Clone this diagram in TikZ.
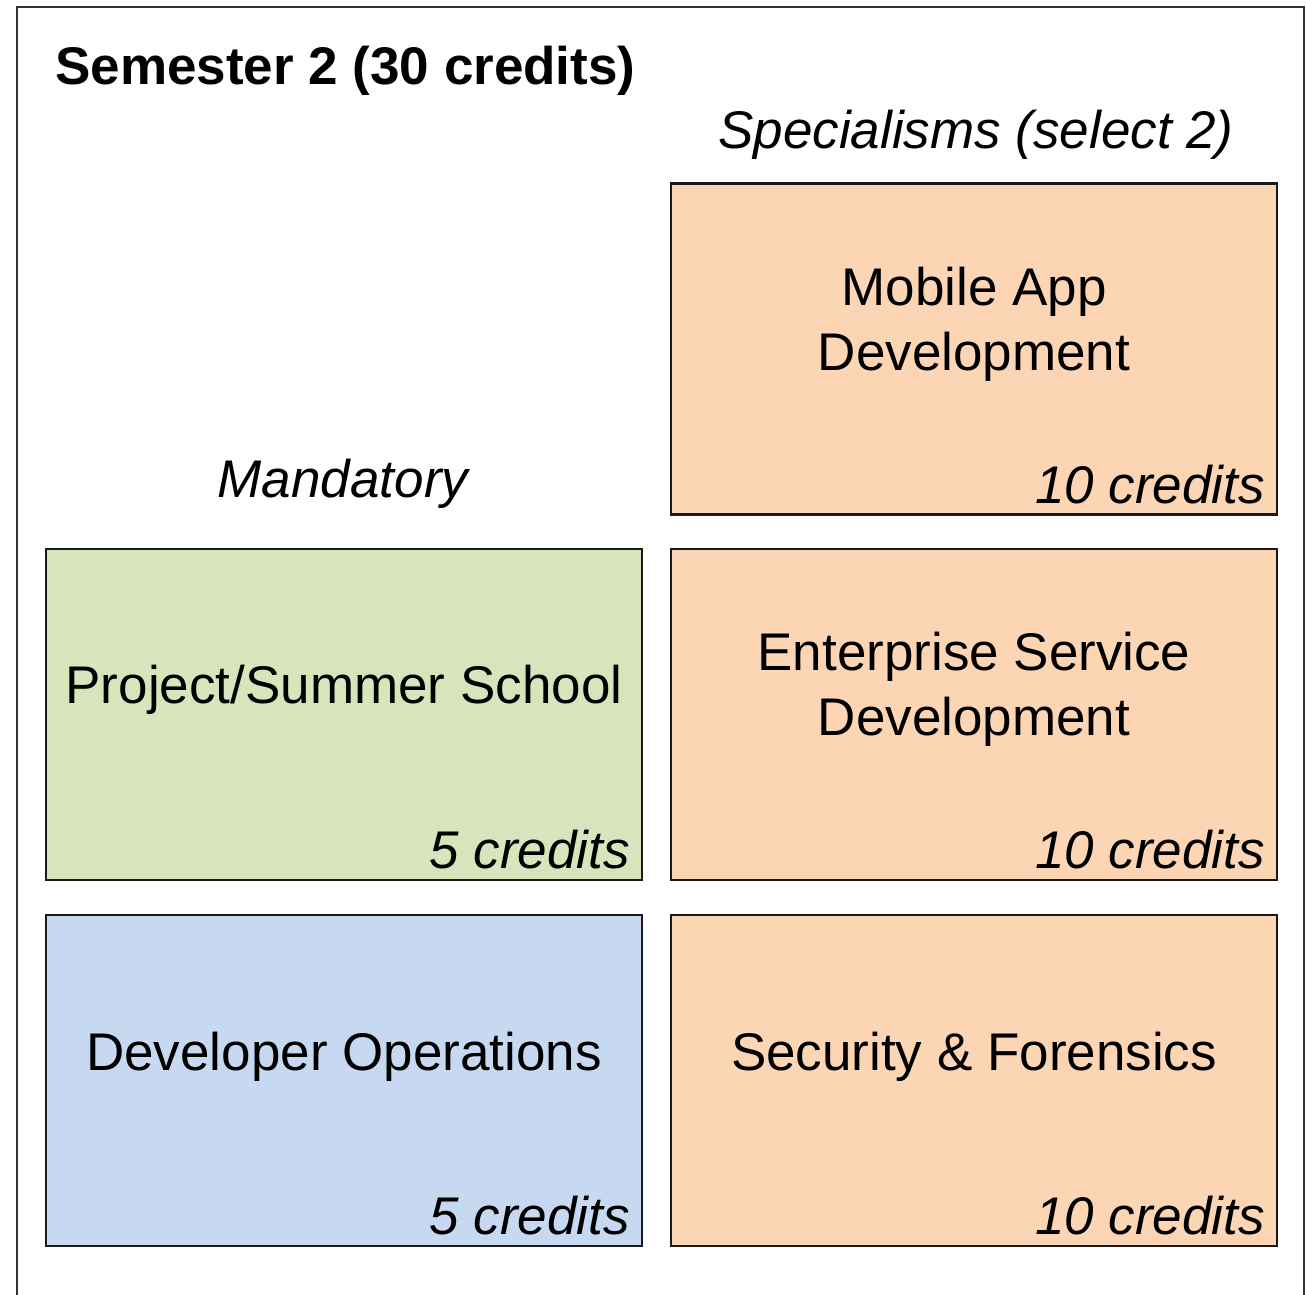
\documentclass[tikz,border=0pt]{standalone}
\usepackage{fontspec}
\setmainfont{Liberation Sans}
\definecolor{peach}{HTML}{FCD5B4}
\definecolor{sage}{HTML}{D8E4BC}
\definecolor{sky}{HTML}{C6D9F0}
\begin{document}
\begin{tikzpicture}[x=1pt,y=-1pt,
  txt/.style={font=\fontsize{53}{65}\selectfont,inner sep=0pt,align=center},
  modbox/.style={draw=black!90,line width=2.8pt,minimum height=331pt,inner sep=0pt},
  credits/.style={txt,font=\fontsize{53}{65}\selectfont\itshape,anchor=base east}]
\fill[white] (0,0) rectangle (1306,1294);
\useasboundingbox (0,0) rectangle (1306,1294);
\draw[black!80,line width=2.5pt] (17,1300) -- (17,7) -- (1304,7) -- (1304,1300);

\node[txt,anchor=base west,font=\fontsize{53}{65}\selectfont\bfseries] (title) at (55,84) {Semester 2 (30 credits)};
\node[txt,anchor=base,font=\fontsize{53}{65}\selectfont\itshape] (spec) at (976,148) {Specialisms (select 2)};
\node[txt,anchor=base,font=\fontsize{53}{65}\selectfont\itshape] (mand) at (343,497) {Mandatory};

% mandatory modules
\node[modbox,fill=sage,minimum width=596pt] (project) at (344,714.5) {};
\node[modbox,fill=sky,minimum width=596pt] (devops) at (344,1080.5) {};
% specialisms
\node[modbox,fill=peach,minimum width=606pt] (mobile) at (974,349) {};
\node[modbox,fill=peach,minimum width=606pt] (enterprise) at (974,714.5) {};
\node[modbox,fill=peach,minimum width=606pt] (security) at (974,1080.5) {};

\node[txt,anchor=base] (projectname) at (344,703) {Project/Summer School};
\node[txt,anchor=base] (devopsname) at (344,1070) {Developer Operations};
\node[txt,anchor=base] (mobilename) at (974,370) {Mobile App\\Development};
\node[txt,anchor=base] (enterprisename) at (974,735) {Enterprise Service\\Development};
\node[txt,anchor=base] (securityname) at (974,1070) {Security \& Forensics};

\node[credits] (projectcr) at (630,868) {5 credits};
\node[credits] (devopscr) at (630,1234) {5 credits};
\node[credits] (mobilecr) at (1265,503) {10 credits};
\node[credits] (enterprisecr) at (1265,868) {10 credits};
\node[credits] (securitycr) at (1265,1234) {10 credits};
\end{tikzpicture}
\end{document}
